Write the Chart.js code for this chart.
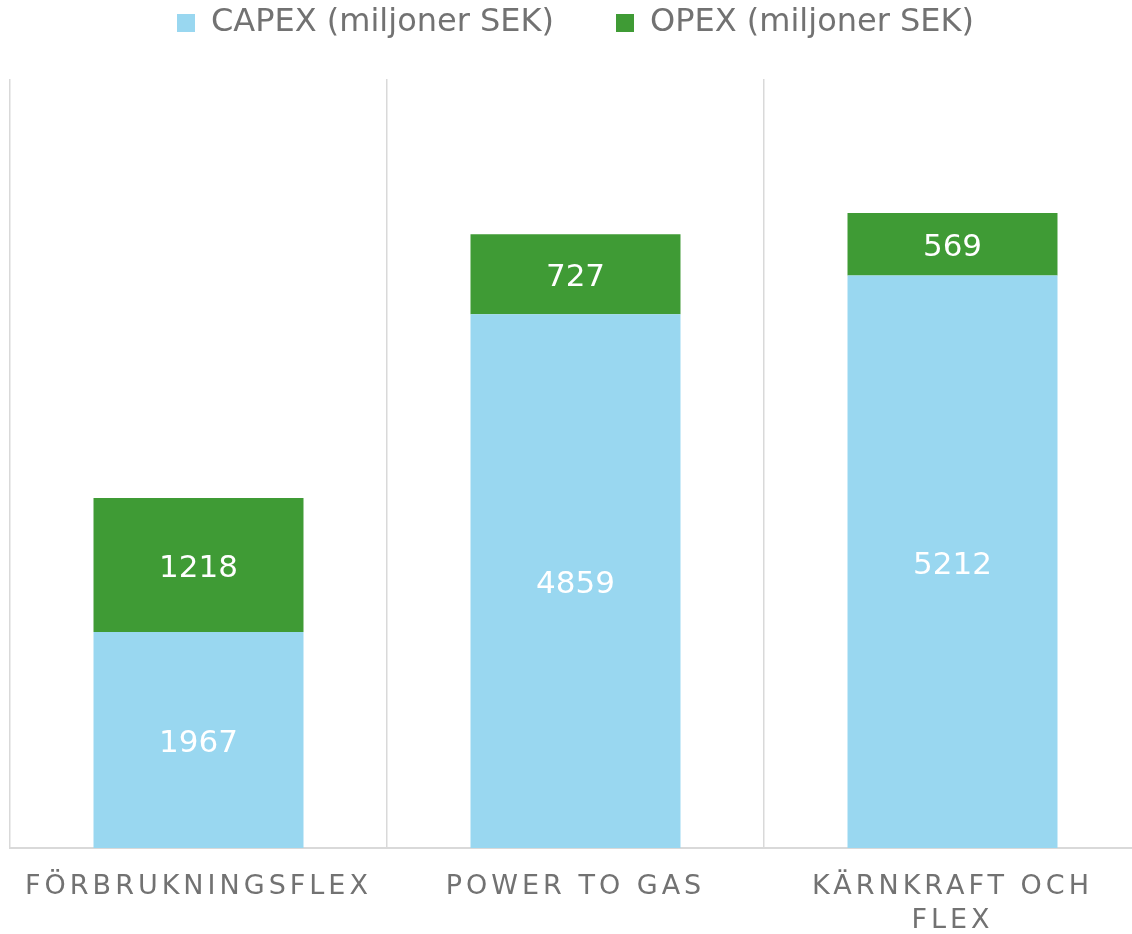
<!DOCTYPE html>
<html>
<head>
<meta charset="utf-8">
<script src="https://cdn.jsdelivr.net/npm/chart.js@4/dist/chart.umd.min.js"></script>
<style>
  html, body { margin: 0; padding: 0; background: #fff; overflow: hidden; }
  #wrap { position: relative; width: 1141px; height: 934px; }
</style>
</head>
<body>
<div id="wrap"><canvas id="costChart"></canvas></div>
<script>
var categories = [
	'FÖRBRUKNINGSFLEX',
	'POWER TO GAS',
	['KÄRNKRAFT OCH', 'FLEX']
];
var capexValues = [1967, 4859, 5212];
var opexValues = [1218, 727, 569];
var seriesNames = ['CAPEX (miljoner SEK)', 'OPEX (miljoner SEK)'];
var seriesColors = ['#99D7F0', '#3F9B35'];

var textGray = '#727272';
var gridGray = '#d9d9d9';

// category axis with spaced-out letters, like the original
class SpacedCategory extends Chart.CategoryScale {
	drawLabels(area) {
		var ctx = this.ctx;
		ctx.save();
		ctx.letterSpacing = '4px';
		super.drawLabels(area);
		ctx.restore();
	}
}
SpacedCategory.id = 'spacedCategory';
Chart.register(SpacedCategory);

// values written in the middle of each segment
var segmentLabels = {
	id: 'segmentLabels',
	afterDatasetsDraw: function(chart) {
		var ctx = chart.ctx;
		ctx.save();
		ctx.font = '31px "DejaVu Sans"';
		ctx.fillStyle = '#ffffff';
		ctx.textAlign = 'center';
		ctx.textBaseline = 'middle';
		chart.data.datasets.forEach(function(ds, i) {
			chart.getDatasetMeta(i).data.forEach(function(bar, j) {
				ctx.fillText(String(ds.data[j]), bar.x, (bar.y + bar.base) / 2 + 4);
			});
		});
		ctx.restore();
	}
};

window.addEventListener('load', function(){
	var ctx = document.getElementById('costChart').getContext('2d');
	new Chart(ctx, {
		type: 'bar',
		data: {
			labels: categories,
			datasets: [{
				label: seriesNames[0],
				data: capexValues,
				backgroundColor: seriesColors[0],
				borderWidth: 0
			}, {
				label: seriesNames[1],
				data: opexValues,
				backgroundColor: seriesColors[1],
				borderWidth: 0
			}]
		},
		options: {
			responsive: true,
			maintainAspectRatio: false,
			animation: false,
			barPercentage: 0.557,
			categoryPercentage: 1,
			layout: {
				padding: { left: 10, right: 0, top: -55, bottom: 0 }
			},
			scales: {
				x: {
					type: 'spacedCategory',
					stacked: true,
					offset: true,
					afterFit: function(scale) { scale.height = 86; },
					grid: {
						offset: true,
						color: gridGray,
						lineWidth: 1.5,
						drawTicks: false
					},
					border: { color: gridGray, width: 2 },
					ticks: {
						color: textGray,
						padding: 22,
						maxRotation: 0,
						autoSkip: false,
						font: { family: 'DejaVu Sans', size: 27, lineHeight: 1.25 }
					}
				},
				y: {
					stacked: true,
					display: false,
					min: 0,
					max: 7000
				}
			},
			plugins: {
				title: {
					display: true,
					text: '',
					weight: 500,
					padding: 0,
					font: { size: 30, lineHeight: 1 }
				},
				legend: {
					display: true,
					position: 'top',
					labels: {
						boxWidth: 18,
						boxHeight: 18,
						padding: 62,
						color: textGray,
						font: { family: 'DejaVu Sans', size: 32 }
					}
				},
				tooltip: { enabled: false }
			}
		},
		plugins: [segmentLabels]
	});
});
</script>
</body>
</html>
